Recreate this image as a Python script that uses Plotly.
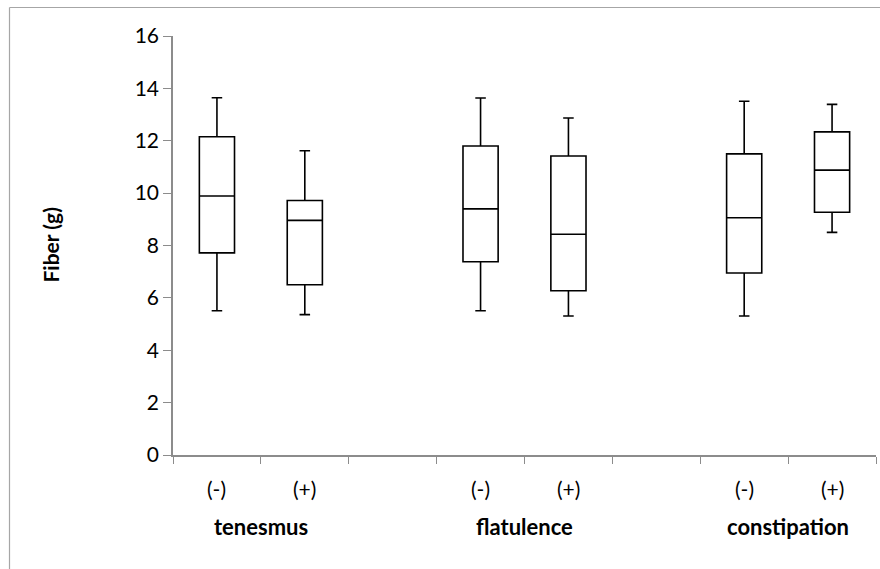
import plotly.graph_objects as go

# Fiber intake (g) by symptom group: absent (-) / present (+)
groups = ["tenesmus", "flatulence", "constipation"]
status = ["(-)", "(+)"]

lower = [5.51, 5.36, 5.51, 5.31, 5.31, 8.50]
q1 = [7.72, 6.50, 7.38, 6.27, 6.95, 9.27]
median = [9.89, 8.96, 9.40, 8.43, 9.06, 10.88]
q3 = [12.15, 9.72, 11.80, 11.42, 11.50, 12.34]
upper = [13.64, 11.62, 13.63, 12.87, 13.51, 13.39]

y_ticks = [0, 2, 4, 6, 8, 10, 12, 14, 16]

# slot positions: two boxes per group, then an empty slot as a spacer
positions = []
for g in range(len(groups)):
    for s in range(len(status)):
        positions.append(g * 3 + s)

W, H = 880, 569
L, R, T, B = 173, 4, 36, 114
font = "Lato, Carlito, 'Liberation Sans', sans-serif"
axis_grey = "#8c8c8c"

fig = go.Figure()
fig.add_trace(go.Box(
    x=positions,
    q1=q1, median=median, q3=q3,
    lowerfence=lower, upperfence=upper,
    fillcolor="white",
    line=dict(color="black", width=1.6),
    whiskerwidth=0.3,
    width=0.4,
    boxpoints=False,
    showlegend=False,
    hoverinfo="skip",
))

# category labels under each box
for i, p in enumerate(positions):
    fig.add_annotation(x=p, y=0, xref="x", yref="paper", yanchor="middle",
                       yshift=-33, text=status[i % 2], showarrow=False,
                       font=dict(family=font, size=21, color="black"))
# group labels centred between their two boxes
for g, name in enumerate(groups):
    fig.add_annotation(x=g * 3 + 0.5, y=0, xref="x", yref="paper", yanchor="middle",
                       yshift=-71, text="<b>%s</b>" % name, showarrow=False,
                       font=dict(family=font, size=22, color="black"))

pw = W - L - R
ph = H - T - B

# y-axis title
fig.add_annotation(x=(50 - L) / pw, y=0.5, xref="paper", yref="paper",
                   xanchor="center", yanchor="middle", textangle=-90,
                   text="<b>Fiber (g)</b>", showarrow=False,
                   font=dict(family=font, size=21, color="black"))

# outer chart frame: top and left edges, kept inside the canvas
fx0 = (9.5 - L) / pw
fy1 = (ph + T - 7.5) / ph
fig.add_shape(type="line", xref="paper", yref="paper",
              x0=fx0, x1=(W - L) / pw, y0=fy1, y1=fy1,
              line=dict(color="#a6a6a6", width=1.2), layer="below")
fig.add_shape(type="line", xref="paper", yref="paper",
              x0=fx0, x1=fx0, y0=fy1, y1=-(H - T - ph) / ph,
              line=dict(color="#a6a6a6", width=1.2), layer="below")

fig.update_layout(
    width=W, height=H,
    margin=dict(l=L, r=R, t=T, b=B),
    plot_bgcolor="white", paper_bgcolor="white",
    font=dict(family=font, size=21, color="black"),
    xaxis=dict(
        range=[-0.5, 7.5],
        tickvals=[k - 0.5 for k in range(9)],
        ticktext=[""] * 9,
        ticks="outside", ticklen=7, tickcolor=axis_grey, tickwidth=1.2,
        showline=True, linecolor=axis_grey, linewidth=1.5,
        showgrid=False, zeroline=False, fixedrange=True,
    ),
    yaxis=dict(
        range=[0, 16],
        tickvals=y_ticks,
        ticksuffix="\u00a0\u00a0\u00a0",
        ticks="outside", ticklen=8, tickcolor=axis_grey, tickwidth=1.2,
        showline=True, linecolor=axis_grey, linewidth=1.5,
        showgrid=False, zeroline=False,
        tickfont=dict(family=font, size=21),
    ),
)

fig.write_html("out.html")
